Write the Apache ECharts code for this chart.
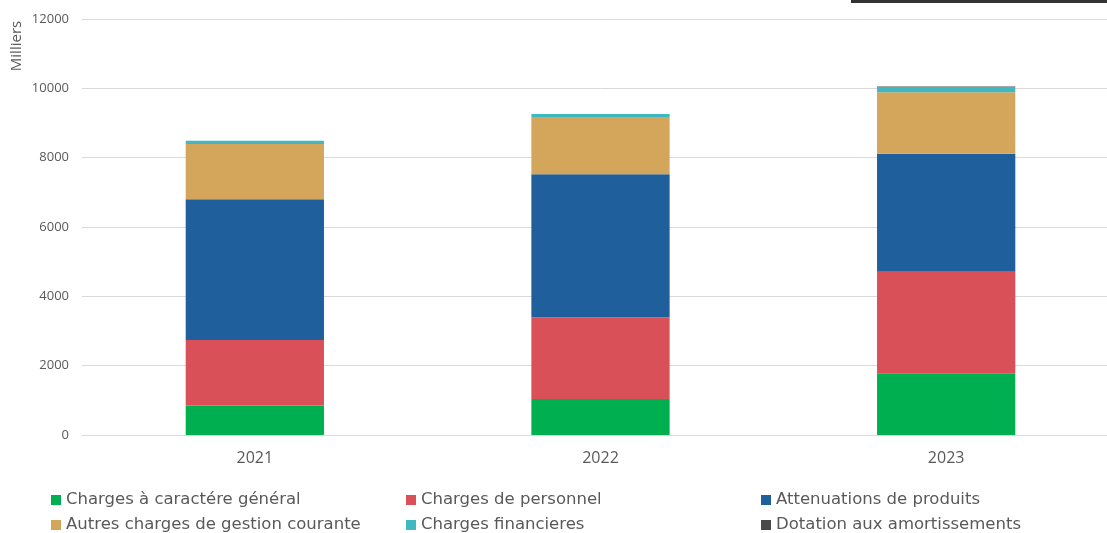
<!DOCTYPE html>
<html>
<head>
<meta charset="utf-8">
<script src="https://cdn.jsdelivr.net/npm/echarts@6/dist/echarts.min.js"></script>
<style>
  html, body { margin: 0; padding: 0; background: #fff; overflow: hidden; }
  #chart { width: 1120px; height: 533px; }
</style>
</head>
<body>
<div id="chart"></div>
<script>
// Years shown on the category axis
const years = ['2021', '2022', '2023'];

// Stacked expense components (thousands)
const chargesGeneral = [850, 1040, 1780];
const chargesPersonnel = [1890, 2360, 2930];
const attenuations = [4060, 4120, 3400];
const autresCharges = [1595, 1654, 1780];
const chargesFinancieres = [95, 87, 144];
const dotations = [0, 0, 20];

const seriesNames = [
  'Charges à caractére général',
  'Charges de personnel',
  'Attenuations de produits',
  'Autres charges de gestion courante',
  'Charges financieres',
  'Dotation aux amortissements'
];
const seriesColors = ['#00b050', '#d95058', '#1f5f9b', '#d4a65b', '#3fb8c2', '#4a4a4a'];
const seriesData = [chargesGeneral, chargesPersonnel, attenuations, autresCharges, chargesFinancieres, dotations];

const legendFont = 'DejaVu Sans';
const axisFont = 'Open Sans';
const textColor = '#595959';

const chart = echarts.init(document.getElementById('chart'), null, { renderer: 'canvas' });

// Legend laid out as three columns of two entries each
const legendCols = [[0, 3], [1, 4], [2, 5]];
const legendLeft = [51, 406, 761];
const legends = legendCols.map((idx, c) => ({
  orient: 'vertical',
  left: legendLeft[c],
  top: 490,
  height: 60,
  padding: 0,
  itemWidth: 10,
  itemHeight: 10,
  itemGap: 5,
  icon: 'rect',
  data: idx.map(i => seriesNames[i]),
  textStyle: { fontFamily: legendFont, fontSize: 16.5, lineHeight: 20, color: textColor }
}));

chart.setOption({
  animation: false,
  textStyle: { fontFamily: axisFont },
  grid: { left: 82, top: 19, width: 1037, height: 416, containLabel: false },
  legend: legends,
  xAxis: {
    type: 'category',
    data: years,
    axisLine: { show: true, lineStyle: { color: '#d9d9d9', width: 1 } },
    axisTick: { show: false },
    axisLabel: { color: textColor, fontSize: 16, margin: 15, fontFamily: axisFont }
  },
  yAxis: {
    type: 'value',
    min: 0,
    max: 12000,
    interval: 2000,
    axisLine: { show: false },
    axisTick: { show: false },
    splitLine: { lineStyle: { color: '#d9d9d9', width: 1 } },
    axisLabel: {
      color: textColor,
      fontSize: 13,
      margin: 13,
      fontFamily: axisFont,
      formatter: v => String(v)
    }
  },
  series: seriesData.map((d, i) => ({
    name: seriesNames[i],
    type: 'bar',
    stack: 'total',
    barWidth: '40%',
    data: d,
    itemStyle: { color: seriesColors[i] }
  })),
  graphic: [
    {
      type: 'text',
      x: 17,
      y: 46,
      rotation: Math.PI / 2,
      style: {
        text: 'Milliers',
        fontFamily: axisFont,
        fontSize: 15,
        fill: textColor,
        align: 'center',
        verticalAlign: 'middle'
      }
    },
    {
      type: 'rect',
      shape: { x: 851, y: 0, width: 256, height: 3 },
      style: { fill: '#333333' }
    }
  ]
});
</script>
</body>
</html>
